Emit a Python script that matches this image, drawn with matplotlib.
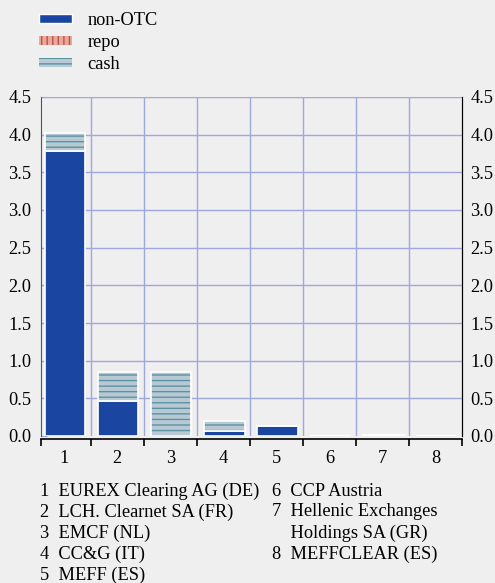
import numpy as np
import matplotlib.pyplot as plt
from matplotlib.patches import Patch

plt.rcParams['font.family'] = ['Liberation Serif', 'DejaVu Serif']
plt.rcParams['hatch.linewidth'] = 1.0

# Data
categories = ['1', '2', '3', '4', '5', '6', '7', '8']
non_otc = [3.78, 0.46, 0.0, 0.07, 0.13, 0.0, 0.0, 0.0]
repo = [0.0, 0.0, 0.0, 0.0, 0.0, 0.0, 0.0, 0.0]
cash = [0.24, 0.39, 0.85, 0.13, 0.0, 0.0, 0.01, 0.0]
names_left = ['1  EUREX Clearing AG (DE)', '2  LCH. Clearnet SA (FR)', '3  EMCF (NL)',
              '4  CC&G (IT)', '5  MEFF (ES)']
names_right = ['6  CCP Austria', '7  Hellenic Exchanges', '    Holdings SA (GR)',
               '8  MEFFCLEAR (ES)']

bg = '#efefef'
blue = '#1a45a0'
cash_face = '#b9c9d4'
cash_hatch = '#5a92a4'
repo_face = '#e9a99a'
repo_hatch = '#c0504d'
grid_col = '#9fa7df'
fs = 13.2

fig = plt.figure(figsize=(4.95, 5.83), dpi=100, facecolor=bg)
W, H = 495, 583
ax = fig.add_axes([41 / W, (H - 436) / H, (462 - 41) / W, (436 - 97) / H], facecolor=bg)

x = np.arange(1, len(categories) + 1) + 0.02
width = 0.76
non_otc = np.array(non_otc)
repo = np.array(repo)
cash = np.array(cash)

ax.bar(x, non_otc, width, color=blue, edgecolor='white', linewidth=1.2, zorder=3)
ax.bar(x, repo, width, bottom=non_otc, color=repo_face, edgecolor=repo_hatch,
       hatch='|||', linewidth=0, zorder=3)
ax.bar(x, cash, width, bottom=non_otc + repo, color=cash_face, edgecolor=cash_hatch,
       hatch='---', linewidth=0, zorder=3)
ax.bar(x, cash, width, bottom=non_otc + repo, fill=False, edgecolor='white',
       linewidth=1.2, zorder=4)

ax.set_xlim(0.563, 8.5)
ax.set_ylim(0, 4.5)

# grid
for b in np.arange(1.5, 8.5, 1.0):
    ax.axvline(b, color=grid_col, lw=1, zorder=1)
for yv in np.arange(0.5, 4.51, 0.5):
    ax.axhline(yv, color=grid_col, lw=1, zorder=1)

# x axis: boundary ticks, centred labels
ax.set_xticks(list(np.arange(1.5, 8.6, 1.0)) + [0.563])
ax.set_xticklabels([])
ax.set_xticks(np.arange(1, 9), minor=True)
ax.set_xticklabels(categories, minor=True)
ax.tick_params(axis='x', which='major', direction='out', length=5, width=1.2, color='black')
ax.tick_params(axis='x', which='minor', length=0, pad=8, labelsize=fs)

yt = np.arange(0, 4.51, 0.5)
ax.set_yticks(yt)
ax.set_yticklabels([f'{v:.1f}' for v in yt])
ax.tick_params(axis='y', which='both', direction='in', length=4, color=grid_col,
               labelsize=fs, left=True, labelleft=True, pad=7)

# right-hand labels on a twin axis without tick marks
ax2 = ax.twinx()
ax2.set_ylim(ax.get_ylim())
ax2.set_yticks(yt)
ax2.set_yticklabels([f'{v:.1f}' for v in yt])
ax2.tick_params(axis='y', length=0, labelsize=fs, pad=6)
for a in (ax, ax2):
    a.spines['top'].set_visible(False)
    a.spines['left'].set_color('#555555')
    a.spines['right'].set_color('black')
    a.spines['bottom'].set_color('black')
    a.spines['bottom'].set_linewidth(1.2)
    a.spines['bottom'].set_position(('outward', 2))
ax2.spines['bottom'].set_visible(False)
ax2.spines['left'].set_visible(False)

handles = [Patch(facecolor=blue, edgecolor='white', label='non-OTC'),
           Patch(facecolor=repo_face, edgecolor=repo_hatch, hatch='|||', lw=0, label='repo'),
           Patch(facecolor=cash_face, edgecolor=cash_hatch, hatch='---', lw=0, label='cash')]
fig.legend(handles=handles, loc='upper left', bbox_to_anchor=(39 / W, 1 - 12 / H),
           frameon=False, fontsize=fs, handlelength=1.8, handleheight=0.35,
           handletextpad=0.85, labelspacing=0.27, borderpad=0, borderaxespad=0)

for i, t in enumerate(names_left):
    fig.text(40 / W, 1 - (491 + 21 * i) / H, t, fontsize=fs, va='center', ha='left')
for i, t in enumerate(names_right):
    fig.text(272 / W, 1 - (491 + 21 * i) / H, t, fontsize=fs, va='center', ha='left')

fig.savefig('out.png', dpi=100, facecolor=bg)
